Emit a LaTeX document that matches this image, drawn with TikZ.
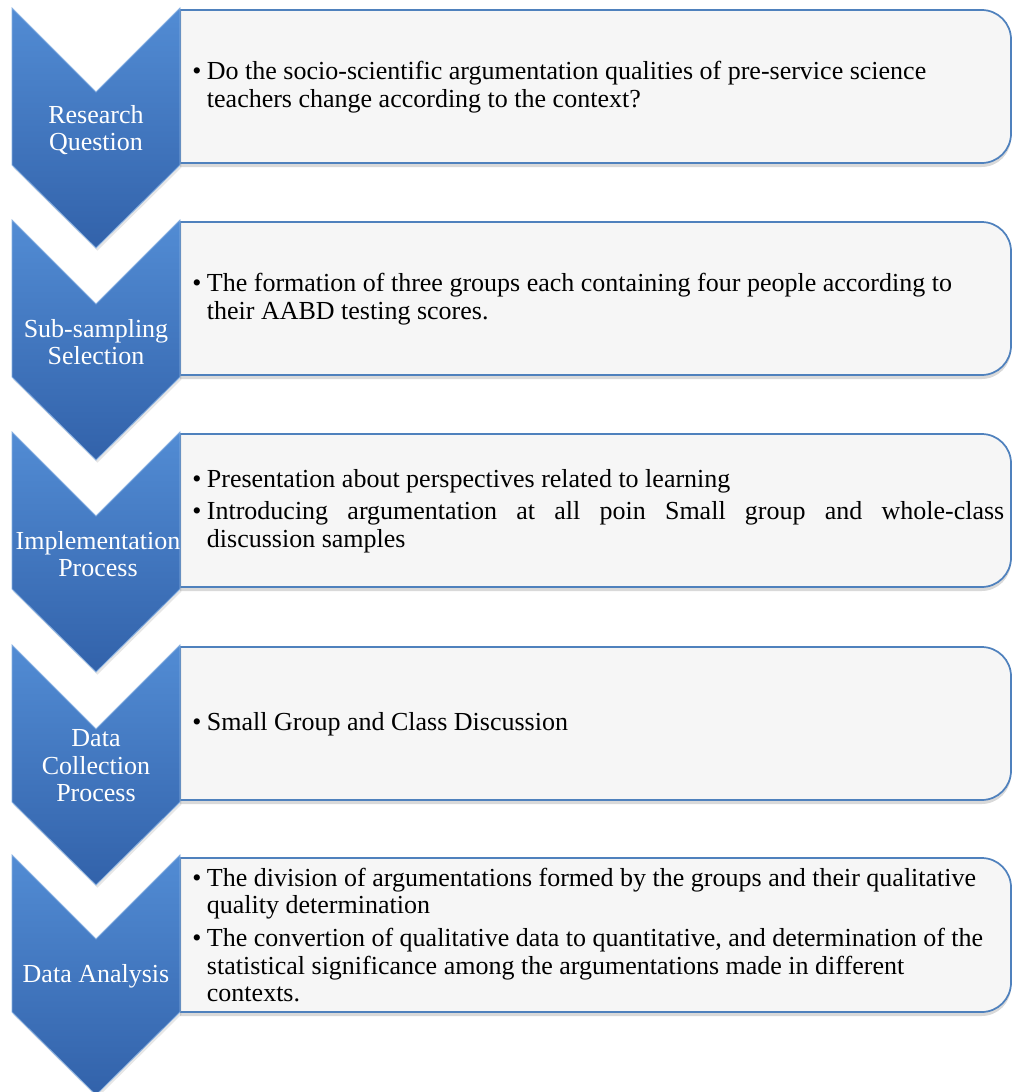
\documentclass[tikz,border=0pt]{standalone}
\usepackage{fontspec}
\setmainfont{Liberation Serif}
\usetikzlibrary{shadows}
\definecolor{ChevTop}{RGB}{82,140,212}
\definecolor{ChevBot}{RGB}{50,98,170}
\definecolor{PanelLine}{RGB}{79,129,189}
\definecolor{PanelFill}{RGB}{246,246,246}

\newcommand{\bitem}[1]{\makebox[11pt][l]{\textbullet}#1}
\newcommand{\bcont}[1]{\hspace*{11pt}#1}

\begin{document}
\begin{tikzpicture}[x=0.75pt, y=-0.75pt,
        chevron/.style={top color=ChevTop, bottom color=ChevBot, draw=ChevTop!70!white, line width=0.6pt,
            drop shadow={opacity=0.2, shadow xshift=1pt, shadow yshift=-2pt}},
        panel/.style={fill=PanelFill, draw=PanelLine, line width=1.3pt,
            drop shadow={opacity=0.3, shadow xshift=0pt, shadow yshift=-3pt}},
        steplabel/.style={text=white, align=center, font=\fontsize{19.5}{20.6}\selectfont, inner sep=0pt},
        bullets/.style={anchor=west, align=left, font=\fontsize{19.5}{20.6}\selectfont, inner sep=0pt}
    ]
        \useasboundingbox (0,0) rectangle (1012,1092);

        % Research question
        \path[panel] (600,10) [rounded corners=22pt] -- (1011,10) -- (1011,163) -- (600,163) [sharp corners] -- (180,163) -- (180,10) -- cycle;
        \path[chevron] (12,8) -- ++(84,84) -- ++(84,-84) -- ++(0,157) -- ++(-84,83) -- ++(-84,-83) -- cycle;
        \node[steplabel] (lab1) at (96,130) {Research\\Question};
        \node[bullets] (txt1) at (192,87) {\bitem{Do the socio-scientific argumentation qualities of pre-service science}\\
            \bcont{teachers change according to the context?}};

        % Sub-sampling selection
        \path[panel] (600,222) [rounded corners=22pt] -- (1011,222) -- (1011,375) -- (600,375) [sharp corners] -- (180,375) -- (180,222) -- cycle;
        \path[chevron] (12,220) -- ++(84,84) -- ++(84,-84) -- ++(0,157) -- ++(-84,83) -- ++(-84,-83) -- cycle;
        \node[steplabel] (lab2) at (96,342) {Sub-sampling\\Selection};
        \node[bullets] (txt2) at (192,299) {\bitem{The formation of three groups each containing four people according to}\\
            \bcont{their AABD testing scores.}};

        % Implementation process
        \path[panel] (600,434) [rounded corners=22pt] -- (1011,434) -- (1011,587) -- (600,587) [sharp corners] -- (180,587) -- (180,434) -- cycle;
        \path[chevron] (12,432) -- ++(84,84) -- ++(84,-84) -- ++(0,157) -- ++(-84,83) -- ++(-84,-83) -- cycle;
        \node[steplabel] (lab3) at (98,554) {Implementation\\Process};
        \node[bullets] (txt3) at (192,511) {\bitem{Presentation about perspectives related to learning}\\[4pt]
            \bitem{\makebox[598pt][s]{Introducing argumentation at all poin Small group and whole-class}}\\
            \bcont{discussion samples}};

        % Data collection process
        \path[panel] (600,647) [rounded corners=22pt] -- (1011,647) -- (1011,800) -- (600,800) [sharp corners] -- (180,800) -- (180,647) -- cycle;
        \path[chevron] (12,645) -- ++(84,84) -- ++(84,-84) -- ++(0,157) -- ++(-84,83) -- ++(-84,-83) -- cycle;
        \node[steplabel] (lab4) at (96,766) {Data\\Collection\\Process};
        \node[bullets] (txt4) at (192,724) {\bitem{Small Group and Class Discussion}};

        % Data analysis
        \path[panel] (600,858) [rounded corners=22pt] -- (1011,858) -- (1011,1012) -- (600,1012) [sharp corners] -- (180,1012) -- (180,858) -- cycle;
        \path[chevron] (12,855) -- ++(84,84) -- ++(84,-84) -- ++(0,157) -- ++(-84,83) -- ++(-84,-83) -- cycle;
        \node[steplabel] (lab5) at (96,976) {Data Analysis};
        \node[bullets] (txt5) at (192,935) {\bitem{The division of argumentations formed by the groups and their qualitative}\\
            \bcont{quality determination}\\[4pt]
            \bitem{The convertion of qualitative data to quantitative, and determination of the}\\
            \bcont{statistical significance among the argumentations made in different}\\
            \bcont{contexts.}};
    \end{tikzpicture}
\end{document}
